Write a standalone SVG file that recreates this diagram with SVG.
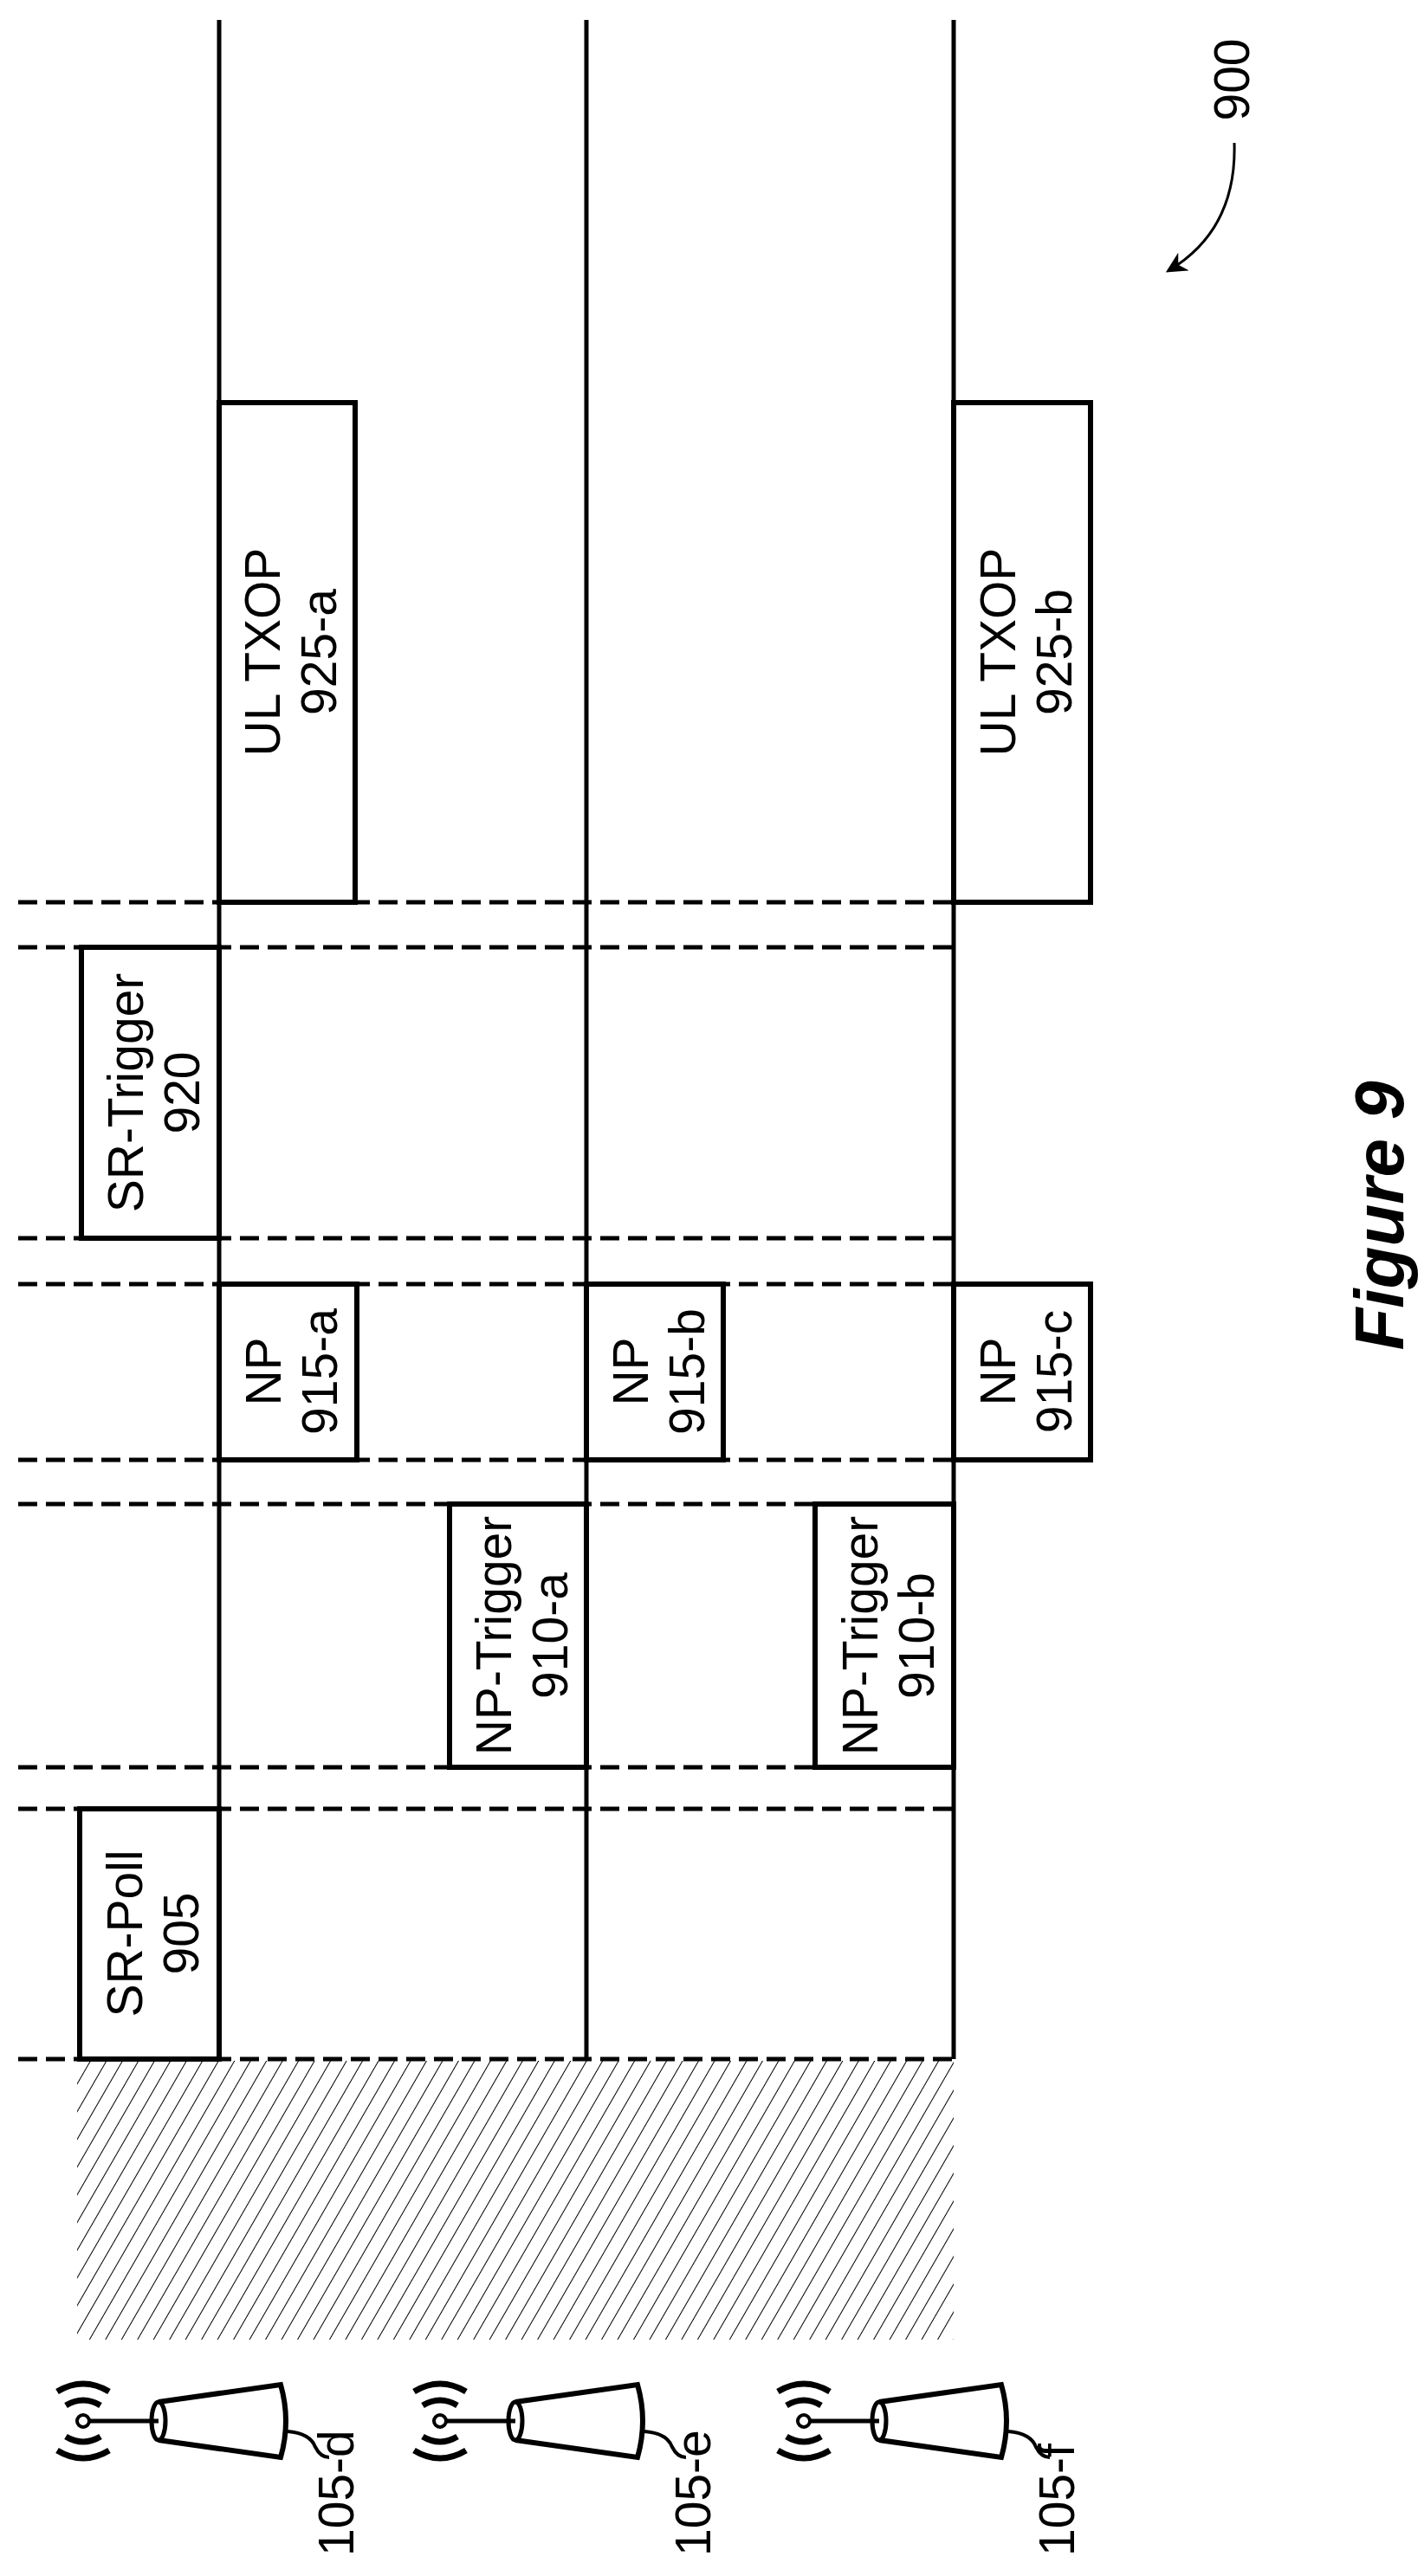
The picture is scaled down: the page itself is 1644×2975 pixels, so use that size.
<svg xmlns="http://www.w3.org/2000/svg" width="1644" height="2975" viewBox="0 0 1644 2975">
<defs>
<pattern id="hatch" width="16" height="16" patternUnits="userSpaceOnUse" patternTransform="rotate(30)">
<line x1="0" y1="0" x2="0" y2="16" stroke="#000" stroke-width="2"/>
</pattern>
<marker id="ah" viewBox="0 0 10 10" refX="8" refY="5" markerWidth="8" markerHeight="8" orient="auto"><path d="M0,0 L10,5 L0,10 L3,5 z" fill="#000"/></marker>
<g id="ant">
<circle cx="0" cy="0" r="7" fill="none" stroke="#000" stroke-width="4"/>
<path d="M-20,-18 Q0,-30 20,-18 M-30,-34 Q0,-52 30,-34 M-20,18 Q0,30 20,18 M-30,34 Q0,52 30,34" fill="none" stroke="#000" stroke-width="7"/>
<line x1="7" y1="0" x2="87" y2="0" stroke="#000" stroke-width="5"/>
<path d="M87,-22 L228,-42 Q240,0 228,42 L87,22" fill="none" stroke="#000" stroke-width="6"/>
<ellipse cx="87" cy="0" rx="8" ry="22" fill="none" stroke="#000" stroke-width="5"/>
<path d="M236,12 Q262,14 268,30 Q274,42 284,42" fill="none" stroke="#000" stroke-width="4"/>
</g>
</defs>
<style>
.tl{stroke:#000;stroke-width:5;fill:none}
.dash{stroke:#000;stroke-width:5;stroke-dasharray:22 10;fill:none}
.box{stroke:#000;stroke-width:6;fill:#fff}
.t{font-family:"Liberation Sans",Arial,sans-serif;font-size:57px;text-anchor:middle}
</style>
<g id="connectors">
<line class="tl" x1="253" y1="23" x2="253" y2="2378"/>
<line class="tl" x1="677" y1="23" x2="677" y2="2378"/>
<line class="tl" x1="1101" y1="23" x2="1101" y2="2378"/>
<line class="dash" x1="21" y1="1042" x2="1101" y2="1042"/>
<line class="dash" x1="21" y1="1094" x2="1101" y2="1094"/>
<line class="dash" x1="21" y1="1430" x2="1101" y2="1430"/>
<line class="dash" x1="21" y1="1483" x2="1101" y2="1483"/>
<line class="dash" x1="21" y1="1686" x2="1101" y2="1686"/>
<line class="dash" x1="21" y1="1737" x2="1101" y2="1737"/>
<line class="dash" x1="21" y1="2041" x2="1101" y2="2041"/>
<line class="dash" x1="21" y1="2089" x2="1101" y2="2089"/>
<line class="dash" x1="21" y1="2378" x2="1101" y2="2378"/>
<path d="M1425,165 Q1428,265 1350,312" fill="none" stroke="#000" stroke-width="3" marker-end="url(#ah)"/>
</g>
<rect id="hatched" x="89" y="2380" width="1012" height="322" fill="url(#hatch)"/>
<g id="ultxop-a"><rect class="box" x="253" y="465" width="157" height="577"/><text class="t" transform="translate(331,753) rotate(-90)"><tspan x="0" y="-8">UL TXOP</tspan><tspan x="0" y="57">925-a</tspan></text></g>
<g id="ultxop-b"><rect class="box" x="1101" y="465" width="158" height="577"/><text class="t" transform="translate(1180,753) rotate(-90)"><tspan x="0" y="-8">UL TXOP</tspan><tspan x="0" y="57">925-b</tspan></text></g>
<g id="srtrigger"><rect class="box" x="94" y="1094" width="159" height="336"/><text class="t" transform="translate(173,1262) rotate(-90)"><tspan x="0" y="-8">SR-Trigger</tspan><tspan x="0" y="57">920</tspan></text></g>
<g id="np-a"><rect class="box" x="253" y="1483" width="159" height="203"/><text class="t" transform="translate(332,1584) rotate(-90)"><tspan x="0" y="-8">NP</tspan><tspan x="0" y="57">915-a</tspan></text></g>
<g id="np-b"><rect class="box" x="677" y="1483" width="158" height="203"/><text class="t" transform="translate(756,1584) rotate(-90)"><tspan x="0" y="-8">NP</tspan><tspan x="0" y="57">915-b</tspan></text></g>
<g id="np-c"><rect class="box" x="1101" y="1483" width="158" height="203"/><text class="t" transform="translate(1180,1584) rotate(-90)"><tspan x="0" y="-8">NP</tspan><tspan x="0" y="57">915-c</tspan></text></g>
<g id="nptrig-a"><rect class="box" x="519" y="1737" width="158" height="304"/><text class="t" transform="translate(598,1889) rotate(-90)"><tspan x="0" y="-8">NP-Trigger</tspan><tspan x="0" y="57">910-a</tspan></text></g>
<g id="nptrig-b"><rect class="box" x="941" y="1737" width="160" height="304"/><text class="t" transform="translate(1021,1889) rotate(-90)"><tspan x="0" y="-8">NP-Trigger</tspan><tspan x="0" y="57">910-b</tspan></text></g>
<g id="srpoll"><rect class="box" x="92" y="2089" width="161" height="289"/><text class="t" transform="translate(172,2233) rotate(-90)"><tspan x="0" y="-8">SR-Poll</tspan><tspan x="0" y="57">905</tspan></text></g>
<g id="ap-d"><use href="#ant" x="96" y="2796"/><text class="t" style="text-anchor:start" transform="translate(408,2952) rotate(-90)">105-d</text></g>
<g id="ap-e"><use href="#ant" x="508" y="2796"/><text class="t" style="text-anchor:start" transform="translate(820,2952) rotate(-90)">105-e</text></g>
<g id="ap-f"><use href="#ant" x="928" y="2796"/><text class="t" style="text-anchor:start" transform="translate(1240,2952) rotate(-90)">105-f</text></g>
<text class="t" transform="translate(1442,92) rotate(-90)">900</text>
<text class="t" style="font-size:80px;font-weight:bold;font-style:italic" transform="translate(1620,1404) rotate(-90)">Figure 9</text>
</svg>
